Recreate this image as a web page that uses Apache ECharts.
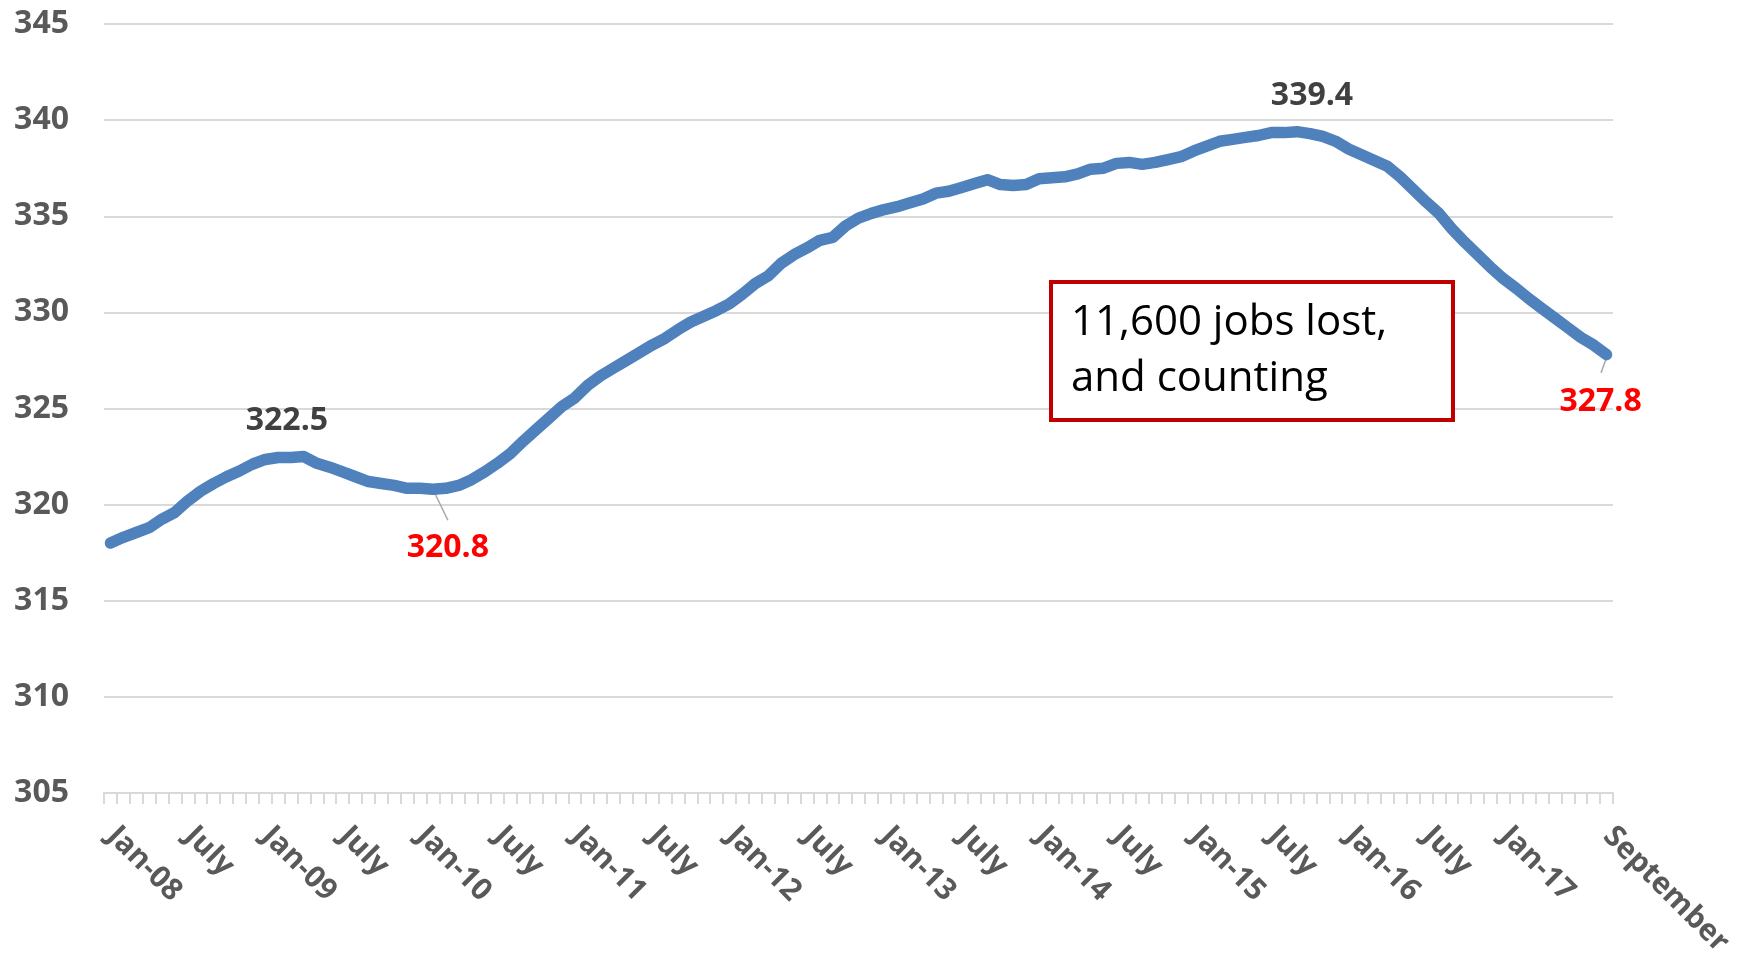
<!DOCTYPE html>
<html lang="en">
  <head>
    <meta charset="UTF-8" />
    <title>Jobs</title>
    <style>
      html, body { margin: 0; padding: 0; background: #fff; }
      #main { width: 1744px; height: 961px; }
    </style>
  </head>
  <body>
    <div id="main"></div>
    <script src="https://cdn.jsdelivr.net/npm/echarts@6.0.0/dist/echarts.min.js"></script>
    <script>
      // monthly values, Jan-08 .. Sep-17
      const values = [
        318.0, 318.3, 318.55, 318.8, 319.25, 319.6, 320.2, 320.7, 321.1, 321.45, 321.75, 322.1,
        322.35, 322.45, 322.45, 322.5, 322.15, 321.95, 321.7, 321.45, 321.2, 321.1, 321.0, 320.85,
        320.85, 320.8, 320.85, 321.0, 321.3, 321.7, 322.15, 322.65, 323.3, 323.9, 324.5, 325.1,
        325.55, 326.2, 326.7, 327.1, 327.5, 327.9, 328.3, 328.65, 329.1, 329.5, 329.8, 330.1,
        330.45, 330.95, 331.5, 331.9, 332.55, 333.0, 333.35, 333.75, 333.9, 334.5, 334.9, 335.15,
        335.35, 335.5, 335.7, 335.9, 336.2, 336.3, 336.5, 336.7, 336.9, 336.65, 336.6, 336.65,
        336.95, 337.0, 337.05, 337.2, 337.45, 337.5, 337.75, 337.8, 337.7, 337.8, 337.95, 338.1,
        338.4, 338.65, 338.9, 339.0, 339.1, 339.2, 339.35, 339.35, 339.4, 339.3, 339.15, 338.9,
        338.5, 338.2, 337.9, 337.6, 337.05, 336.4, 335.75, 335.15, 334.35, 333.65, 333.0, 332.35,
        331.75, 331.25, 330.7, 330.2, 329.7, 329.2, 328.7, 328.3, 327.8
      ];

      const monthNames = ["Jan", "Feb", "Mar", "Apr", "May", "Jun", "Jul", "Aug", "Sep", "Oct", "Nov", "Dec"];
      const categories = values.map((v, i) =>
        monthNames[i % 12] + "-" + String(8 + Math.floor(i / 12)).padStart(2, "0")
      );

      // which categories get a label, and what it says
      const tickIndex = [0, 6, 12, 18, 24, 30, 36, 42, 48, 54, 60, 66, 72, 78, 84, 90, 96, 102, 108, 116];
      const tickText = [
        "Jan-08", "July", "Jan-09", "July", "Jan-10", "July", "Jan-11", "July", "Jan-12", "July",
        "Jan-13", "July", "Jan-14", "July", "Jan-15", "July", "Jan-16", "July", "Jan-17", "September"
      ];

      // called-out points
      const callIndex = [15, 25, 92, 116];
      const callText = ["322.5", "320.8", "339.4", "327.8"];

      const myChart = echarts.init(document.getElementById("main"));

      const option = {
        animation: false,
        grid: { left: 104, right: 131, top: 24, bottom: 168 },
        xAxis: {
          type: "category",
          data: categories,
          boundaryGap: true,
          axisLine: { lineStyle: { color: "#d9d9d9", width: 2 } },
          axisTick: { show: true, interval: 0, length: 11, lineStyle: { color: "#d9d9d9", width: 2 } },
          axisLabel: {
            interval: (i) => tickIndex.includes(i),
            formatter: (v, i) => tickText[tickIndex.indexOf(i)],
            rotate: -45,
            margin: 37,
            padding: [0, 0, 0, 2],
            color: "#595959",
            fontFamily: "Open Sans",
            fontWeight: "bold",
            fontSize: 30,
          },
          splitLine: { show: false },
        },
        yAxis: {
          type: "value",
          min: 305,
          max: 345,
          interval: 5,
          axisLine: { show: false },
          axisTick: { show: false },
          axisLabel: {
            margin: 35,
            color: "#595959",
            fontFamily: "Open Sans",
            fontWeight: "bold",
            fontSize: 32,
          },
          splitLine: { lineStyle: { color: "#d9d9d9", width: 2 } },
        },
        series: [
          {
            type: "line",
            data: values,
            showSymbol: false,
            smooth: false,
            lineStyle: { color: "#4f81bd", width: 11.5, cap: "round", join: "round" },
          },
        ],
      };
      myChart.setOption(option);

      // callout labels placed relative to their points
      const offsets = [[-17, -36], [15, 59], [15, -36], [-6, 47]];
      const colors = ["#404040", "#ff0000", "#404040", "#ff0000"];
      const graphics = [];
      callIndex.forEach((idx, k) => {
        const p = myChart.convertToPixel({ seriesIndex: 0 }, [idx, values[idx]]);
        graphics.push({
          type: "text",
          x: p[0] + offsets[k][0],
          y: p[1] + offsets[k][1],
          style: {
            text: callText[k],
            fill: colors[k],
            font: "bold 32px 'Open Sans'",
            align: "center",
            verticalAlign: "middle",
          },
        });
      });
      // leader lines for the red labels
      const p1 = myChart.convertToPixel({ seriesIndex: 0 }, [25, values[25]]);
      const p2 = myChart.convertToPixel({ seriesIndex: 0 }, [116, values[116]]);
      graphics.push({
        type: "line",
        shape: { x1: p1[0], y1: p1[1], x2: p1[0] + 15, y2: p1[1] + 31 },
        style: { stroke: "#a6a6a6", lineWidth: 1.5 },
      });
      graphics.push({
        type: "line",
        shape: { x1: p2[0] + 1, y1: p2[1], x2: p2[0] - 5.5, y2: p2[1] + 18 },
        style: { stroke: "#a6a6a6", lineWidth: 1.5 },
      });
      // text box
      graphics.push({
        type: "rect",
        shape: { x: 1051, y: 282, width: 402, height: 138 },
        style: { fill: "#fff", stroke: "#c00000", lineWidth: 4 },
      });
      graphics.push({
        type: "text",
        x: 1071,
        y: 323,
        style: { text: "11,600 jobs lost,", fill: "#000", font: "42px 'Open Sans'", verticalAlign: "middle" },
      });
      graphics.push({
        type: "text",
        x: 1071,
        y: 379,
        style: { text: "and counting", fill: "#000", font: "42px 'Open Sans'", verticalAlign: "middle" },
      });
      myChart.setOption({ graphic: graphics });
    </script>
  </body>
</html>
